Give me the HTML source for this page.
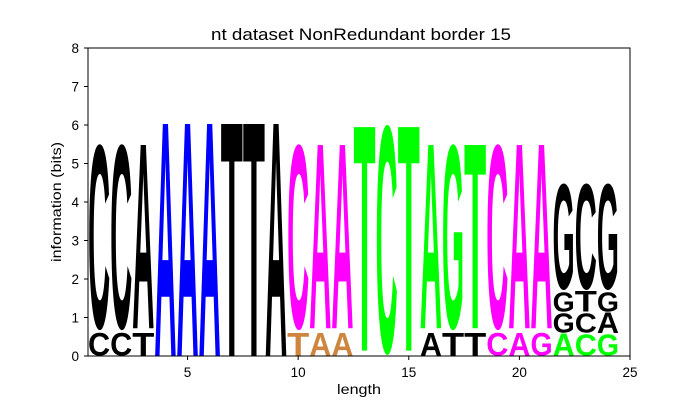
<!DOCTYPE html>
<html><head><meta charset="utf-8"><style>
html,body{margin:0;background:#fff;width:700px;height:400px;overflow:hidden;}
svg{display:block;font-family:"Liberation Sans","DejaVu Sans",sans-serif;}
</style></head><body>
<svg id="chart" width="700" height="400" viewBox="0 0 700 400" overflow="hidden">
<text x="361" y="40" font-size="16.5" text-anchor="middle" textLength="300" lengthAdjust="spacingAndGlyphs">nt dataset NonRedundant border 15</text>
<text x="359" y="394" font-size="14" text-anchor="middle" textLength="44" lengthAdjust="spacingAndGlyphs">length</text>
<text transform="translate(61,202) rotate(-90)" font-size="14" text-anchor="middle" textLength="120" lengthAdjust="spacingAndGlyphs">information (bits)</text>
<defs><clipPath id="clip"><rect x="88" y="48" width="542" height="308"/></clipPath></defs>
<g id="marks" clip-path="url(#clip)"></g>
<g id="axes"></g>
<rect x="88" y="48" width="542" height="308" fill="none" stroke="#000" stroke-width="1"/>
</svg>
<script>
const positions = [1,2,3,4,5,6,7,8,9,10,11,12,13,14,15,16,17,18,19,20,21,22,23,24];
const stackLetters = [
 ["C","C"],["C","C"],["T","A"],["A"],["A"],["A"],["T"],["T"],["A"],
 ["T","C"],["A","A"],["A","A"],["T"],["C"],["T"],
 ["A","A"],["T","G"],["T","T"],["C","C"],["A","A"],["G","A"],
 ["A","G","G","G"],["C","C","T","C"],["G","A","G","G"]
];
const stackBottoms = [
 [0,0.65],[0,0.65],[0,0.72],[0],[0],[0],[0],[0],[0],
 [0,0.65],[0,0.72],[0,0.72],[0.14],[0],[0.14],
 [0,0.72],[0,0.65],[0,0.72],[0,0.65],[0,0.72],[0,0.72],
 [0,0.6,1.15,1.7],[0,0.6,1.15,1.7],[0,0.6,1.15,1.7]
];
const stackTops = [
 [0.6,5.5],[0.6,5.5],[0.6,5.46],[6],[6],[6],[6],[6],[6],
 [0.6,5.5],[0.6,5.46],[0.6,5.46],[5.92],[6],[5.92],
 [0.6,5.46],[0.6,5.5],[0.6,5.46],[0.6,5.5],[0.6,5.46],[0.6,5.46],
 [0.57,1.12,1.67,4.48],[0.57,1.12,1.67,4.48],[0.57,1.12,1.67,4.48]
];
const stackColors = [
 ["#000","#000"],["#000","#000"],["#000","#000"],["#00f"],["#00f"],["#00f"],["#000"],["#000"],["#000"],
 ["#cd853f","#f0f"],["#cd853f","#f0f"],["#cd853f","#f0f"],["#0f0"],["#0f0"],["#0f0"],
 ["#000","#0f0"],["#000","#0f0"],["#000","#0f0"],["#f0f","#f0f"],["#f0f","#f0f"],["#f0f","#f0f"],
 ["#0f0","#000","#000","#000"],["#0f0","#000","#000","#000"],["#0f0","#000","#000","#000"]
];
const yTicks = [0,1,2,3,4,5,6,7,8];
const xTicks = [5,10,15,20,25];

const NS="http://www.w3.org/2000/svg";
const X0=88,X1=630,XMIN=0.5,XMAX=25,Y0=356,Y1=48,YMAX=8;
const CAP=68.5;
const xs=v=>X0+(v-XMIN)/(XMAX-XMIN)*(X1-X0);
const ys=v=>Y0-(v/YMAX)*(Y0-Y1);
const marks=document.getElementById('marks');
const axes=document.getElementById('axes');

positions.forEach((p,i)=>{
  const l=xs(p-0.5), w=xs(p+0.5)-xs(p-0.5);
  stackLetters[i].forEach((ch,j)=>{
    const b=ys(stackBottoms[i][j]), t=ys(stackTops[i][j]);
    const h=b-t;
    const round=(ch==="C"||ch==="G");
    const sy=h/(round?CAP+2.6:CAP);
    const yb=round?b-1.3*sy:b;
    const tx=document.createElementNS(NS,'text');
    
    
    tx.setAttribute('x',0);tx.setAttribute('y',0);
    tx.setAttribute('font-size',100);
    tx.setAttribute('font-weight','bold');
    tx.setAttribute('fill',stackColors[i][j]);
    tx.setAttribute('textLength',w);
    tx.setAttribute('lengthAdjust','spacingAndGlyphs');
    tx.setAttribute('transform','translate('+l+','+yb+') scale(1,'+sy+')');
    tx.textContent=ch;
    marks.appendChild(tx);
  });
});

yTicks.forEach(v=>{
  const y=ys(v);
  const ln=document.createElementNS(NS,'line');
  
  
  ln.setAttribute('x1',84);ln.setAttribute('x2',88);ln.setAttribute('y1',y);ln.setAttribute('y2',y);
  ln.setAttribute('stroke','#000');
  axes.appendChild(ln);
  const t=document.createElementNS(NS,'text');
  
  
  t.setAttribute('x',79);t.setAttribute('y',y+5);t.setAttribute('font-size',13.5);t.setAttribute('text-anchor','end');
  t.textContent=v;
  axes.appendChild(t);
});
xTicks.forEach(v=>{
  const x=xs(v);
  const ln=document.createElementNS(NS,'line');
  
  
  ln.setAttribute('x1',x);ln.setAttribute('x2',x);ln.setAttribute('y1',356);ln.setAttribute('y2',360);
  ln.setAttribute('stroke','#000');
  axes.appendChild(ln);
  const t=document.createElementNS(NS,'text');
  
  
  t.setAttribute('x',x);t.setAttribute('y',377);t.setAttribute('font-size',13.5);t.setAttribute('text-anchor','middle');
  t.textContent=v;
  axes.appendChild(t);
});
</script>
</body></html>
